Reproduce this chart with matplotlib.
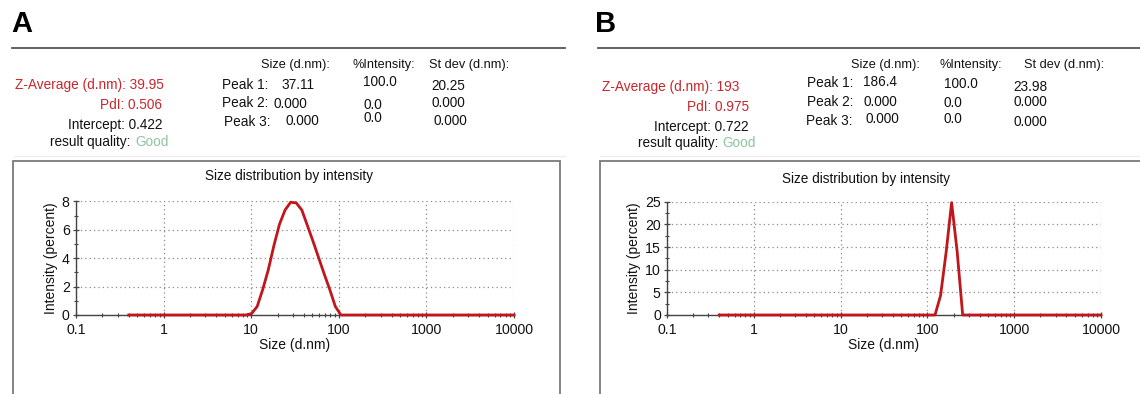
import matplotlib
matplotlib.use("Agg")
import matplotlib.pyplot as plt
from matplotlib.patches import Rectangle
from matplotlib.lines import Line2D
from matplotlib.ticker import FixedLocator, NullFormatter, MultipleLocator

plt.rcParams['font.family'] = ['Liberation Sans', 'DejaVu Sans']

# ---------------- data ----------------
sizes_A = [0.4, 8.72, 10.1, 11.7, 13.54, 15.69, 18.17, 21.04, 24.36, 28.21,
           32.67, 37.84, 43.82, 50.75, 58.77, 68.06, 78.82, 91.28, 105.7, 10000]
intensity_A = [0, 0, 0.1, 0.6, 1.8, 3.2, 4.9, 6.4, 7.4, 7.95,
               7.9, 7.4, 6.3, 5.2, 4.05, 2.9, 1.8, 0.6, 0, 0]

sizes_B = [0.4, 122.4, 141.8, 164.2, 190.1, 220.2, 255.0, 10000]
intensity_B = [0, 0, 4.3, 13.8, 24.8, 14.0, 0, 0]

x_ticks = [0.1, 1, 10, 100, 1000, 10000]
x_ticklabels = ['0.1', '1', '10', '100', '1000', '10000']
y_ticks_A = [0, 2, 4, 6, 8]
y_ticks_B = [0, 5, 10, 15, 20, 25]

panel_labels = ['A', 'B']
zavg_text = ['Z-Average (d.nm): 39.95', 'Z-Average (d.nm): 193']
pdi_text = ['PdI: 0.506', 'PdI: 0.975']
intercept_text = ['Intercept: 0.422', 'Intercept: 0.722']
header_cols = ['Size (d.nm):', '%Intensity:', 'St dev (d.nm):']
peak_names = ['Peak 1:', 'Peak 2:', 'Peak 3:']
peak_size_A = ['37.11', '0.000', '0.000']
peak_int_A = ['100.0', '0.0', '0.0']
peak_sd_A = ['20.25', '0.000', '0.000']
peak_size_B = ['186.4', '0.000', '0.000']
peak_int_B = ['100.0', '0.0', '0.0']
peak_sd_B = ['23.98', '0.000', '0.000']

# ---------------- layout ----------------
W, H = 1140, 394
fig = plt.figure(figsize=(W / 100, H / 100), dpi=100)
fig.patch.set_facecolor('white')


def fx(x):
    return x / W


def fy(y):
    return 1 - y / H


RED = '#c8262c'
CURVE = '#c0161c'
GREEN = '#8cc49e'
FS = 9.8
FS_HDR = 9.2


def txt(x, y, s, ha='left', color='#111111', size=FS, **kw):
    fig.text(fx(x), fy(y), s, ha=ha, va='center', color=color, fontsize=size, **kw)


panels = [
    dict(lab_x=11, sep=(12, 565, 47.5), box=(13, 161, 560), zr=164, zy=(85, 105, 125, 142),
         pdr=162, rq=(130, 135),
         hdr=[(295.5, 65), (383.5, 65), (469.5, 65)],
         pk=[(268, 85), (268, 103), (270, 122)],
         ps=[(281, 85), (273, 104), (285, 121)],
         pi=[(363, 82), (363, 105), (363, 118)],
         pd=[(431, 86), (431, 103), (433, 121)],
         ax=(76, 514, 201.5, 315), title=(289, 176),
         x=sizes_A, y=intensity_A, yt=y_ticks_A, minor=1,
         sz=peak_size_A, it=peak_int_A, sd=peak_sd_A),
    dict(lab_x=595, sep=(598, 1140, 48), box=(600, 161, 1160), zr=739, zy=(87, 107, 127, 143),
         pdr=749, rq=(718, 722),
         hdr=[(885, 65), (970.5, 65), (1064.5, 65)],
         pk=[(853, 83), (853, 102), (853, 121)],
         ps=[(863, 82), (864, 102), (865, 119)],
         pi=[(944, 84), (944, 103), (944, 119)],
         pd=[(1013, 87), (1013, 102), (1014, 122)],
         ax=(667, 1101, 201.7, 315), title=(866, 179),
         x=sizes_B, y=intensity_B, yt=y_ticks_B, minor=2.5,
         sz=peak_size_B, it=peak_int_B, sd=peak_sd_B),
]

for i, p in enumerate(panels):
    # panel letter
    fig.text(fx(p['lab_x']), fy(24), panel_labels[i], ha='left', va='center',
             fontsize=21, fontweight='bold', color='black')
    # separator line
    x0, x1, yy = p['sep']
    fig.add_artist(Line2D([fx(x0), fx(x1)], [fy(yy), fy(yy)], color='#555555', lw=1.3))
    # faint line under result block
    fig.add_artist(Line2D([fx(x0 + 2), fx(x1)], [fy(155.5), fy(155.5)], color='#eeeeee', lw=1.0))
    # result block
    txt(p['zr'], p['zy'][0], zavg_text[i], ha='right', color=RED)
    txt(p['pdr'], p['zy'][1], pdi_text[i], ha='right', color=RED)
    txt(p['pdr'], p['zy'][2], intercept_text[i], ha='right')
    txt(p['rq'][0], p['zy'][3], 'result quality:', ha='right')
    txt(p['rq'][1], p['zy'][3], 'Good', ha='left', color=GREEN)
    for (hx, hy), h in zip(p['hdr'], header_cols):
        txt(hx, hy, h, ha='center', size=FS_HDR)
    for k in range(3):
        txt(p['pk'][k][0], p['pk'][k][1], peak_names[k], ha='right')
        txt(p['ps'][k][0], p['ps'][k][1], p['sz'][k])
        txt(p['pi'][k][0], p['pi'][k][1], p['it'][k])
        txt(p['pd'][k][0], p['pd'][k][1], p['sd'][k])
    # chart box
    bx0, by0, bx1 = p['box']
    fig.add_artist(Rectangle((fx(bx0), fy(400)), fx(bx1) - fx(bx0), fy(by0) - fy(400),
                             fill=False, edgecolor='#7a7a7a', lw=1.3, clip_on=False))
    # title
    txt(p['title'][0], p['title'][1], 'Size distribution by intensity', ha='center')

    # axes
    ax_l, ax_r, ax_t, ax_b = p['ax']
    ax = fig.add_axes([fx(ax_l), fy(ax_b), fx(ax_r) - fx(ax_l), fy(ax_t) - fy(ax_b)])
    ax.set_facecolor('none')
    ax.plot(p['x'], p['y'], color=CURVE, lw=2.0, solid_joinstyle='round', clip_on=False, zorder=5)
    ax.set_xscale('log')
    ax.set_xlim(0.1, 10000)
    ax.set_ylim(0, p['yt'][-1])
    ax.xaxis.set_major_locator(FixedLocator(x_ticks))
    ax.set_xticklabels(x_ticklabels)
    minors = [m * d for d in [0.1, 1, 10, 100, 1000] for m in range(2, 10)]
    ax.xaxis.set_minor_locator(FixedLocator(minors))
    ax.xaxis.set_minor_formatter(NullFormatter())
    ax.set_yticks(p['yt'])
    ax.yaxis.set_minor_locator(MultipleLocator(p['minor']))
    for s in ['top', 'right']:
        ax.spines[s].set_visible(False)
    for s in ['left', 'bottom']:
        ax.spines[s].set_color('#444444')
        ax.spines[s].set_linewidth(1.0)
    ax.grid(True, which='major', linestyle=(0, (1, 2.5)), color='#8a8a8a', lw=0.9)
    ax.tick_params(axis='both', which='major', direction='inout', length=5, width=0.9,
                   colors='#444444', labelcolor='#111111', labelsize=FS + 0.4)
    ax.tick_params(axis='x', which='major', pad=3)
    ax.tick_params(axis='y', which='major', pad=2)
    ax.tick_params(axis='both', which='minor', direction='inout', length=3.5, width=0.8,
                   colors='#444444')
    ax.set_xlabel('Size (d.nm)', fontsize=FS + 0.2, color='#111111', labelpad=1)
    ax.set_ylabel('Intensity (percent)', fontsize=FS + 0.2, color='#111111', labelpad=3)

fig.savefig('out.png', dpi=100, facecolor='white')
